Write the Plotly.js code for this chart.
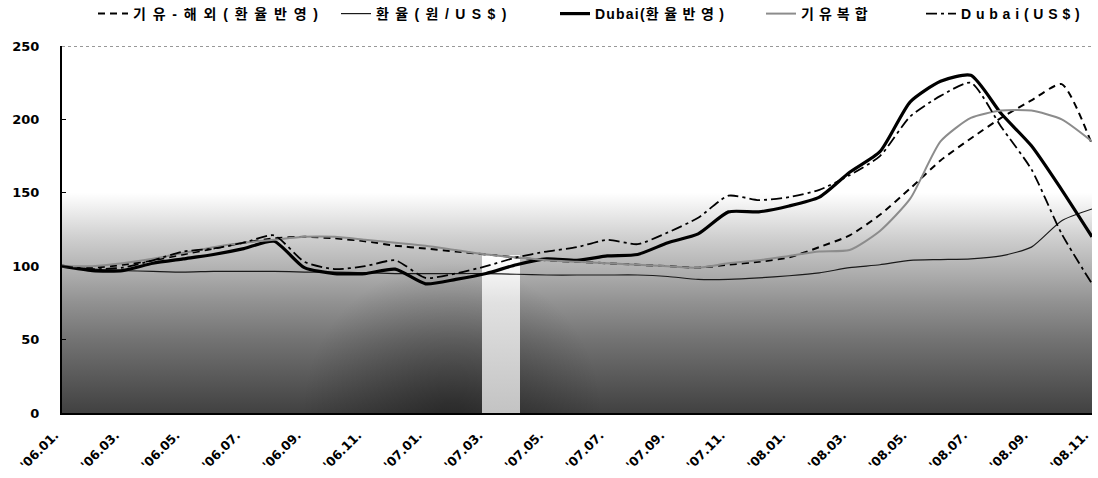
<!DOCTYPE html>
<html><head><meta charset="utf-8">
<script src="https://cdn.plot.ly/plotly-3.0.1.min.js"></script>
<style>html,body{margin:0;padding:0;background:#fff}#chart{width:1098px;height:478px}</style>
</head><body><div id="chart"></div>
<script>
const months = ["'06.01.","'06.02.","'06.03.","'06.04.","'06.05.","'06.06.","'06.07.","'06.08.","'06.09.","'06.10.","'06.11.","'06.12.",
  "'07.01.","'07.02.","'07.03.","'07.04.","'07.05.","'07.06.","'07.07.","'07.08.","'07.09.","'07.10.","'07.11.","'07.12.",
  "'08.01.","'08.02.","'08.03.","'08.04.","'08.05.","'08.06.","'08.07.","'08.08.","'08.09.","'08.10.","'08.11."];

const seriesNames = [
  "<span style='letter-spacing:6.8px'>기유-해외(환율반영)</span>",
  "<span style='letter-spacing:6.4px'>환율(원/US$)</span>",
  "<span style='letter-spacing:1.2px'>Dubai(</span><span style='letter-spacing:5.5px'>환율반영</span>)",
  "<span style='letter-spacing:5px'>기유복합</span>",
  "<span style='letter-spacing:4.8px'>Dubai(US$)</span>"
];

const giyuOverseas = [100, 99, 101, 104, 108, 112, 116, 119, 120, 119, 117, 114,
  112, 110, 108, 106, 104, 103, 102, 101, 100, 99, 101, 103,
  106, 113, 121, 135, 153, 172, 187, 201, 213, 224, 183];
const fxRate = [100, 98, 97, 96.5, 96, 96.5, 96.5, 96.5, 96, 96, 95.5, 95,
  95, 95, 95, 94.5, 94, 94, 94, 94, 93, 91, 91, 92,
  93.5, 95.5, 99, 101, 104, 104.5, 105, 107, 113, 131, 139];
const dubaiKrw = [100, 97, 97, 102, 105, 108, 112, 117, 99, 95, 95, 98,
  88, 91, 95, 101, 105, 104, 107, 108, 116, 122, 137, 137,
  141, 147, 164, 178, 212, 226, 230, 204, 182, 152, 120];
const giyuComposite = [100, 100, 102, 105, 109, 113, 116, 118, 120, 120, 118, 116,
  114, 111, 108, 106, 104, 103, 102, 101, 100, 99, 102, 104,
  107, 110, 111, 124, 146, 185, 201, 206, 206, 200, 185];
const dubaiUsd = [100, 98, 99, 104, 110, 112, 116, 121, 103, 98, 100, 104,
  92, 95, 100, 106, 110, 113, 118, 115, 123, 133, 148, 145,
  147, 152, 162, 175, 202, 216, 225, 195, 166, 122, 88];

const tickMonths = months.filter((m, i) => i % 2 === 0);
const yTicks = [0, 50, 100, 150, 200, 250];

function makeBackground() {
  const W = 1030, H = 367;
  const c = document.createElement('canvas');
  c.width = W; c.height = H;
  const g = c.getContext('2d');
  g.fillStyle = '#fff'; g.fillRect(0, 0, W, H);
  const gr = g.createLinearGradient(0, 0, 0, H);
  const stops = [[0, 255], [0.4, 255], [0.46, 232], [0.52, 208], [0.6, 180], [0.7, 145], [0.8, 115], [0.9, 90], [1, 65]];
  stops.forEach(([p, v]) => gr.addColorStop(p, `rgb(${v},${v},${v})`));
  g.fillStyle = gr; g.fillRect(0, 0, W, H);
  const rg = g.createRadialGradient(390, H, 10, 390, H, 150);
  rg.addColorStop(0, 'rgba(0,0,0,0.35)');
  rg.addColorStop(1, 'rgba(0,0,0,0)');
  g.fillStyle = rg; g.fillRect(200, H - 160, 400, 160);
  const band = g.createLinearGradient(0, H * 0.57, 0, H);
  band.addColorStop(0, 'rgb(255,255,255)');
  band.addColorStop(0.3, 'rgb(225,225,225)');
  band.addColorStop(1, 'rgb(195,195,195)');
  g.fillStyle = band; g.fillRect(420, H * 0.57, 38, H * 0.43);
  return c.toDataURL();
}

const baseFont = "Liberation Sans, Arial, Noto Sans CJK KR, sans-serif";
const styles = [
  {color: '#000', width: 2, dash: '7px,5px'},
  {color: '#1a1a1a', width: 1.2, dash: 'solid'},
  {color: '#000', width: 3.2, dash: 'solid'},
  {color: '#8c8c8c', width: 2, dash: 'solid'},
  {color: '#000', width: 1.8, dash: '11px,4px,3px,4px'}
];
const values = [giyuOverseas, fxRate, dubaiKrw, giyuComposite, dubaiUsd];
const legendIds = ['legend', 'legend2', 'legend3', 'legend4', 'legend5'];
const legendX = [93, 336, 555, 761, 921];

const traces = values.map((v, i) => ({
  x: months, y: v, type: 'scatter', mode: 'lines', name: seriesNames[i],
  line: Object.assign({shape: 'spline', smoothing: 0.6}, styles[i]),
  legend: legendIds[i], hoverinfo: 'skip'
}));

const layout = {
  width: 1098, height: 478,
  margin: {l: 62, r: 6, t: 46, b: 65, autoexpand: false},
  paper_bgcolor: '#fff', plot_bgcolor: '#fff',
  showlegend: true,
  xaxis: {
    type: 'category', range: [0, 34], tickvals: tickMonths, ticktext: tickMonths,
    tickangle: -45, showgrid: false, zeroline: false, showline: true, linecolor: '#000', linewidth: 2,
    ticks: '', tickfont: {family: 'DejaVu Sans, sans-serif', size: 12.5, weight: 'bold', color: '#000'},
    ticklabelstandoff: 8, ticklabelshift: -7
  },
  yaxis: {
    range: [0, 250], tickvals: yTicks, showgrid: false, zeroline: false,
    showline: true, linecolor: '#000', linewidth: 2, ticks: 'inside', ticklen: 4, tickcolor: '#000',
    tickfont: {family: 'DejaVu Sans, sans-serif', size: 13, weight: 'bold', color: '#000'},
    ticklabelstandoff: 18
  },
  images: [{source: makeBackground(), xref: 'paper', yref: 'paper', x: 0, y: 1, sizex: 1, sizey: 1,
    sizing: 'stretch', layer: 'below', xanchor: 'left', yanchor: 'top'}],
  shapes: [{type: 'line', xref: 'paper', yref: 'y', x0: 0, x1: 1, y0: 250, y1: 250,
    line: {color: '#777', width: 1.5, dash: 'dot'}}]
};
legendIds.forEach((id, i) => {
  layout[id] = {
    x: (legendX[i] - 62) / 1030, y: 1 + (46 - 14) / 367, xanchor: 'left', yanchor: 'middle',
    orientation: 'h', bgcolor: 'rgba(0,0,0,0)', borderwidth: 0,
    font: {family: baseFont, size: 14, weight: 'bold', color: '#000'}
  };
});

Plotly.newPlot('chart', traces, layout, {displayModeBar: false, staticPlot: true});
</script></body></html>
